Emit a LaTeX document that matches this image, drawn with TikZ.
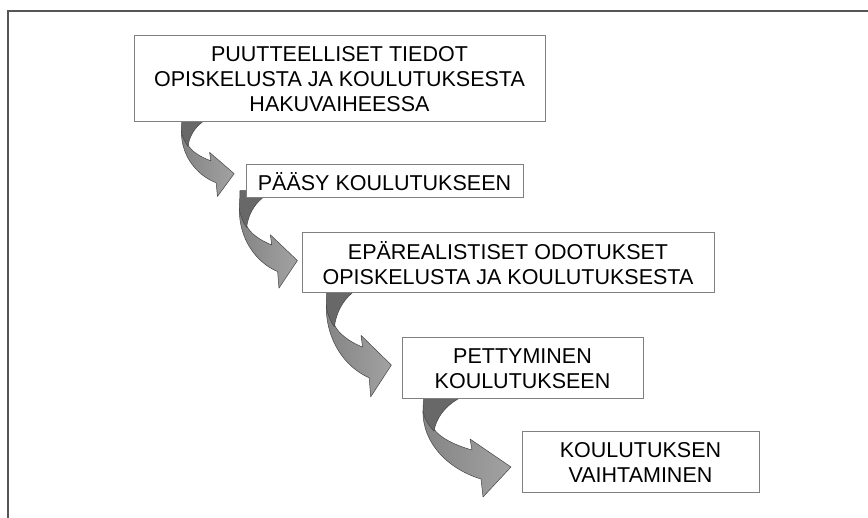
\documentclass[tikz,border=0pt]{standalone}
\usepackage{fontspec}
\setmainfont{Liberation Sans}
\definecolor{framegray}{HTML}{555555}
\definecolor{boxgray}{HTML}{808080}
\definecolor{ribbonlightA}{HTML}{848484}
\definecolor{ribbonlightB}{HTML}{A2A2A2}
\definecolor{ribbondark}{HTML}{686868}
\definecolor{ribbonedge}{HTML}{454545}
\tikzset{
  stagebox/.style={draw=boxgray, line width=1pt, fill=white, align=center,
    inner sep=0pt, font=\fontsize{21.5}{25}\selectfont},
  ribbonpart/.style={draw=ribbonedge, line width=0.5pt, line join=round},
}
\newcommand\ribbonarrow[4]{%
  \begin{scope}[shift={(#1,#2)}, xscale=#3, yscale=#4]
    \path[ribbonpart, left color=ribbonlightA, right color=ribbonlightB]
      (-1,11) .. controls (-2,44) and (24,70) .. (57,80) -- (59,98) -- (87,68)
      -- (46,40) -- (48,51) .. controls (30,46) and (15,38) .. (10,30)
      .. controls (5,22) and (1,17) .. (-1,11) -- cycle;
    \path[ribbonpart, fill=ribbondark]
      (0,-8) -- (36,-8) -- (34,0) .. controls (20,8) and (12,20) .. (10,32)
      .. controls (4,26) and (-1,17) .. (-1,11) .. controls (-1,5) and (0,0) .. (0,-8) -- cycle;
  \end{scope}}
\begin{document}
\begin{tikzpicture}[x=1pt, y=-1pt]
  \useasboundingbox (0,0) rectangle (868,518);
  \fill[white] (0,0) rectangle (868,518);
  % frame
  \coordinate (fl) at (8,518);
  \coordinate (fc) at (8,11);
  \coordinate (fr) at (868,11);
  \draw[framegray, line width=2pt] (fl) -- (fc) -- (fr);
  % ribbons (behind boxes)
  \ribbonarrow{182}{122}{0.6}{0.76}
  \ribbonarrow{240}{198}{0.66}{0.92}
  \ribbonarrow{327}{293}{0.74}{1.06}
  \ribbonarrow{424}{399}{1}{1}
  % boxes
  \node[stagebox, minimum width=411pt, minimum height=86pt] (b1) at (339.5,79)
    {PUUTTEELLISET TIEDOT\\OPISKELUSTA JA KOULUTUKSESTA\\HAKUVAIHEESSA};
  \node[stagebox, minimum width=277pt, minimum height=33pt] (b2) at (384.5,181.5)
    {PÄÄSY KOULUTUKSEEN};
  \node[stagebox, minimum width=412pt, minimum height=60pt] (b3) at (508,263)
    {EPÄREALISTISET ODOTUKSET\\OPISKELUSTA JA KOULUTUKSESTA};
  \node[stagebox, minimum width=241pt, minimum height=61pt] (b4) at (522.5,368.5)
    {PETTYMINEN\\KOULUTUKSEEN};
  \node[stagebox, minimum width=237pt, minimum height=61pt] (b5) at (640.5,462.5)
    {KOULUTUKSEN\\VAIHTAMINEN};
\end{tikzpicture}
\end{document}
